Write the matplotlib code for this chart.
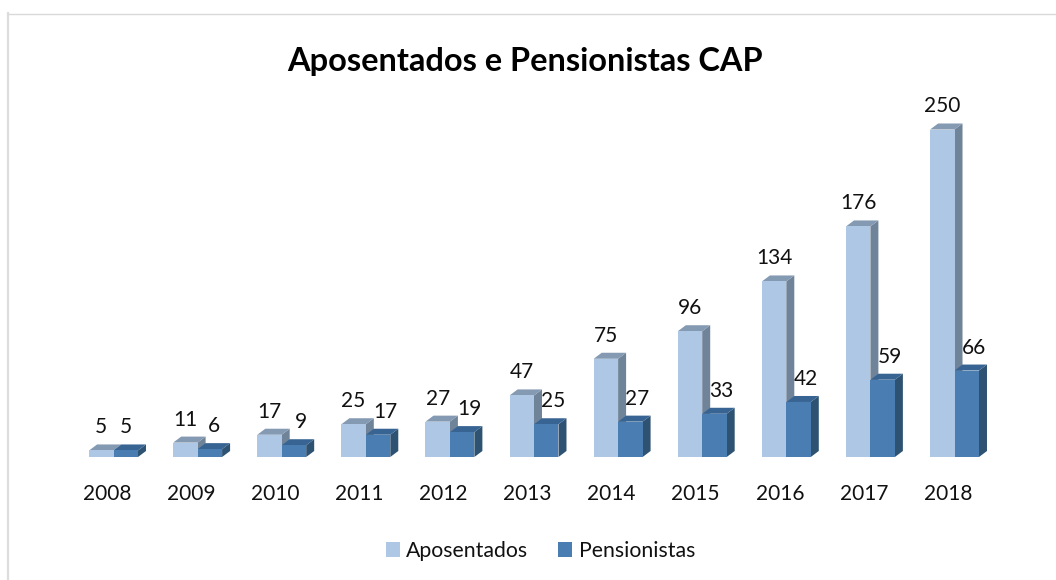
import matplotlib
matplotlib.use("Agg")
import matplotlib.pyplot as plt
from matplotlib.patches import Polygon, Patch

plt.rcParams['font.family'] = ['Lato', 'DejaVu Sans']

years = ['2008', '2009', '2010', '2011', '2012', '2013', '2014', '2015', '2016', '2017', '2018']
aposentados = [5, 11, 17, 25, 27, 47, 75, 96, 134, 176, 250]
pensionistas = [5, 6, 9, 17, 19, 25, 27, 33, 42, 59, 66]

W, H = 1056, 580
X0, STEP = 113.5, 84.1   # pixel of first category, pixels per category
Y0, PXV = 457.0, 1.31    # pixel of baseline, pixels per unit
DX, DY = 8 / STEP, 6 / PXV  # depth of the fake 3D
BW = 24.4 / STEP


def draw_bar(ax, x, v, front, top, side):
    # side and top first so the front covers their edges
    ax.add_patch(Polygon([(x + BW, 0), (x + BW + DX, DY), (x + BW + DX, v + DY), (x + BW, v)], fc=side, ec='none', zorder=x * 2 + 2))
    ax.add_patch(Polygon([(x, v), (x + DX, v + DY), (x + BW + DX, v + DY), (x + BW, v)], fc=top, ec='none', zorder=x * 2 + 2))
    ax.bar(x, v, BW, align='edge', color=front, edgecolor='none', zorder=x * 2 + 3)


fig = plt.figure(figsize=(W / 100, H / 100), dpi=100)
ax = fig.add_axes([0, 0, 1, 1])
ax.set_xlim(-X0 / STEP, (W - X0) / STEP)
ax.set_ylim((Y0 - H) / PXV, Y0 / PXV)
ax.axis('off')

for i, year in enumerate(years):
    draw_bar(ax, i - BW, aposentados[i], '#AEC7E5', '#8499B2', '#6F8399')
    draw_bar(ax, i + 0.001, pensionistas[i], '#4A7DB1', '#386493', '#2E5272')
    ax.text(i - BW / 2, aposentados[i] + 23 / PXV, str(aposentados[i]), ha='center', va='center', fontsize=15, color='#111111')
    # the dark series labels sit a bit to the right, except the tiny first ones
    off = 7 if i > 1 else (4 if i == 1 else 0)
    ax.text(i + BW / 2 + off / STEP, pensionistas[i] + 23 / PXV, str(pensionistas[i]), ha='center', va='center', fontsize=15, color='#111111')
    ax.text(i - 6.5 / STEP, -37 / PXV, year, ha='center', va='center', fontsize=15, color='#111111')

fig.text(525 / W, 1 - 61 / H, 'Aposentados e Pensionistas CAP', ha='center', va='center', fontsize=23.4, fontweight='bold', color='black')

handles = [Patch(fc='#AEC7E5', ec='none', label='Aposentados'), Patch(fc='#4A7DB1', ec='none', label='Pensionistas')]
fig.legend(handles=handles, ncol=2, loc='center', bbox_to_anchor=(540.5 / W, 1 - 551 / H), frameon=False,
           fontsize=15.3, handlelength=0.66, handleheight=0.66, handletextpad=0.3, columnspacing=1.4, labelcolor='#111111')

# chart frame, only left and top show
fig.add_artist(plt.Line2D([8 / W, 8 / W], [0, 1 - 13 / H], color='#DDDDDD', lw=1.6))
fig.add_artist(plt.Line2D([8 / W, 1], [1 - 13.5 / H, 1 - 13.5 / H], color='#D9D9D9', lw=1.0))

fig.savefig('out.png', dpi=100)
